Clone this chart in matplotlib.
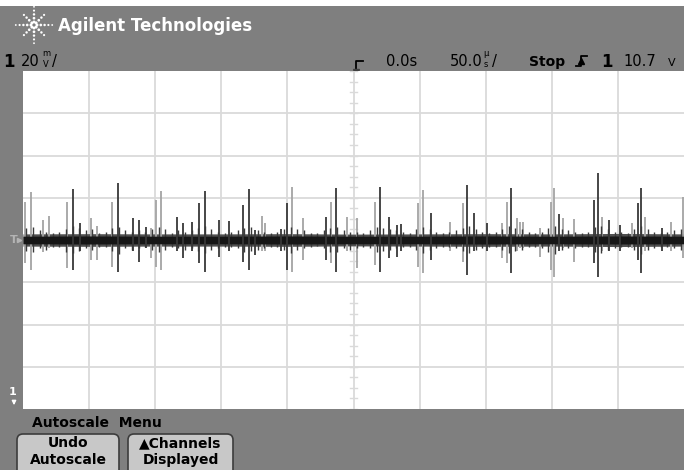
import matplotlib
matplotlib.use('Agg')
import matplotlib.pyplot as plt
from matplotlib.patches import FancyBboxPatch, Rectangle

# channel 1 capture: 50 us/div, 20 mV/div, trace
spike_t = [-248.7, -244.2, -234.9, -230.3, -216.7, -212.0, -206.9, -198.8, -194.3, -182.9,
           -178.4, -166.6, -162.0, -157.0, -153.4, -149.4, -145.6, -133.7, -129.0, -122.4,
           -116.6, -112.6, -101.5, -94.0, -83.4, -79.0, -74.5, -69.5, -67.0, -55.1,
           -50.1, -46.8, -38.0, -20.8, -17.0, -13.2, -5.2, 2.9, 16.3, 20.0,
           27.1, 32.7, 35.7, 49.0, 52.3, 58.6, 73.0, 82.6, 85.6, 91.4,
           100.7, 112.5, 115.9, 118.9, 123.4, 125.9, 128.4, 141.1, 149.2, 151.9,
           155.7, 158.7, 166.8, 182.1, 184.7, 187.7, 193.5, 201.6, 210.4, 215.4,
           217.2, 220.5, 233.1, 240.1, 249.0]
spike_top = [18.1, 22.9, 9.5, 11.4, 18.1, 24.1, 8.0, 10.6, 6.6, 18.0,
             27.1, 10.6, 9.5, 6.3, 5.7, 18.9, 23.3, 10.7, 8.2, 8.7,
             17.4, 23.3, 9.5, 9.1, 16.6, 24.0, 4.7, 11.4, 8.2, 5.2,
             17.7, 25.2, 10.3, 11.0, 18.1, 24.5, 11.0, 10.3, 18.1, 25.2,
             11.0, 7.1, 7.6, 17.7, 23.7, 12.6, 8.7, 17.4, 26.0, 12.9,
             8.2, 7.9, 18.1, 24.5, 10.3, 8.7, 8.7, 5.7, 18.1, 24.5,
             12.2, 10.3, 9.8, 18.9, 31.6, 10.7, 9.5, 7.1, 7.9, 17.4,
             24.5, 11.0, 5.7, 8.7, 20.5]
spike_bot = [-10.9, -14.2, -5.7, -4.0, -13.3, -14.2, -5.0, -9.5, -9.5, -12.6,
             -15.0, -5.0, -10.3, -4.0, -8.5, -12.6, -14.2, -5.0, -8.5, -5.0,
             -11.0, -15.0, -8.0, -5.0, -10.3, -14.2, -7.1, -5.0, -5.0, -5.0,
             -14.2, -15.0, -9.5, -9.5, -11.0, -15.0, -5.0, -13.3, -11.8, -15.0,
             -8.5, -7.9, -5.0, -12.6, -15.8, -9.5, -5.0, -10.3, -16.6, -5.0,
             -5.0, -8.7, -11.0, -15.8, -5.0, -4.0, -4.0, -7.9, -14.2, -17.4,
             -5.0, -4.0, -10.3, -11.0, -17.4, -5.0, -5.0, -5.0, -4.0, -9.5,
             -15.8, -5.0, -5.0, -5.0, -8.5]
spike_dark = [0, 0, 0, 0, 0, 1, 1, 0, 0, 0,
              1, 1, 1, 1, 0, 0, 0, 1, 1, 1,
              1, 1, 1, 1, 1, 1, 1, 0, 0, 1,
              1, 0, 0, 1, 0, 1, 0, 0, 0, 1,
              1, 1, 1, 0, 0, 1, 0, 0, 1, 1,
              1, 0, 0, 1, 0, 0, 0, 0, 0, 0,
              1, 0, 0, 1, 1, 0, 1, 1, 0, 1,
              1, 0, 1, 0, 0]

# small noise hairs on the floor (mV)
hair_t = [-247.5, -242.5, -237.5, -232.5, -227.5, -222.5, -217.5, -212.5, -207.5, -202.5,
          -197.5, -192.5, -187.5, -182.5, -177.5, -172.5, -167.5, -162.5, -157.5, -152.5,
          -147.5, -142.5, -137.5, -132.5, -127.5, -122.5, -117.5, -112.5, -107.5, -102.5,
          -97.5, -92.5, -87.5, -82.5, -77.5, -72.5, -67.5, -62.5, -57.5, -52.5,
          -47.5, -42.5, -37.5, -32.5, -27.5, -22.5, -17.5, -12.5, -7.5, -2.5,
          2.5, 7.5, 12.5, 17.5, 22.5, 27.5, 32.5, 37.5, 42.5, 47.5,
          52.5, 57.5, 62.5, 67.5, 72.5, 77.5, 82.5, 87.5, 92.5, 97.5,
          102.5, 107.5, 112.5, 117.5, 122.5, 127.5, 132.5, 137.5, 142.5, 147.5,
          152.5, 157.5, 162.5, 167.5, 172.5, 177.5, 182.5, 187.5, 192.5, 197.5,
          202.5, 207.5, 212.5, 217.5, 222.5, 227.5, 232.5, 237.5, 242.5, 247.5]
hair_top = [5.5, 6.0, 4.5, 4.0, 3.5, 4.0, 5.0, 6.5, 5.5, 4.5,
            5.0, 3.5, 4.0, 5.5, 6.0, 4.5, 4.0, 4.5, 4.0, 5.0,
            6.0, 5.0, 3.5, 4.5, 4.0, 4.5, 5.5, 6.5, 5.0, 4.0,
            3.5, 4.0, 4.5, 5.5, 6.0, 4.5, 4.0, 3.5, 4.0, 5.0,
            6.0, 5.0, 4.5, 3.5, 3.5, 4.5, 5.5, 6.0, 4.5, 4.0,
            4.0, 3.5, 4.5, 6.0, 5.5, 5.0, 4.5, 4.0, 3.5, 5.0,
            6.0, 5.0, 4.0, 3.5, 4.0, 4.5, 5.5, 6.5, 5.0, 4.0,
            3.5, 4.0, 5.0, 6.5, 5.5, 5.0, 4.0, 3.5, 4.0, 5.5,
            6.5, 5.0, 4.5, 4.0, 3.5, 4.0, 6.0, 6.5, 5.0, 4.0,
            4.0, 3.5, 5.0, 6.5, 5.0, 4.0, 3.5, 4.0, 4.5, 5.0]
hair_bot = [-5.0, -5.5, -4.0, -4.5, -3.5, -3.5, -5.5, -6.0, -5.0, -4.0,
            -4.5, -3.5, -3.5, -5.0, -6.5, -4.0, -4.5, -4.0, -3.5, -4.5,
            -5.5, -4.5, -3.5, -4.0, -4.5, -4.0, -5.0, -6.0, -4.5, -4.0,
            -3.5, -3.5, -4.0, -5.5, -5.0, -4.5, -4.0, -3.5, -3.5, -4.5,
            -6.0, -4.5, -4.0, -3.5, -3.0, -4.0, -5.5, -5.5, -4.0, -4.5,
            -4.0, -3.5, -4.0, -5.5, -5.0, -4.5, -4.0, -3.5, -3.5, -4.5,
            -6.0, -4.5, -4.0, -3.5, -3.5, -4.0, -5.0, -6.0, -4.5, -4.0,
            -3.5, -3.5, -4.5, -6.0, -5.0, -4.5, -3.5, -3.5, -4.0, -5.5,
            -6.5, -4.5, -4.0, -4.0, -3.5, -3.5, -5.5, -6.0, -4.5, -4.0,
            -3.5, -3.5, -4.5, -6.5, -4.5, -4.0, -3.5, -3.5, -4.0, -4.5]

# half widths of the noise floor, one value per division edge (mV)
band_t = [-250, -200, -150, -100, -50, 0, 50, 100, 150, 200, 250]
band_core = [1.8, 1.9, 1.8, 1.8, 1.9, 1.8, 1.8, 1.9, 1.8, 1.9, 1.8]
band_fuzz = [2.9, 3.0, 2.9, 2.9, 3.0, 2.8, 2.9, 3.0, 2.9, 3.1, 2.9]

fig = plt.figure(figsize=(6.84, 4.70), dpi=100)
fig.patch.set_facecolor('#7f7f7f')

# pixel canvas for the screen decorations
bg = fig.add_axes([0, 0, 1, 1])
bg.set_xlim(0, 684)
bg.set_ylim(470, 0)
bg.axis('off')
bg.add_patch(Rectangle((0, 0), 684, 6, color='white', lw=0))

# starburst logo
cx, cy = 34, 25
for dx, dy, n in [(1, 0, 5), (-1, 0, 5), (0, 1, 5), (0, -1, 5),
                  (0.7, 0.7, 4), (-0.7, 0.7, 4), (0.7, -0.7, 4), (-0.7, -0.7, 4)]:
    rs = [3 + 3.8 * i for i in range(n)]
    bg.scatter([cx + dx * r for r in rs], [cy + dy * r for r in rs],
               s=[4.5 - 0.7 * i for i in range(n)], color='white', lw=0)
bg.text(58, 31, 'Agilent Technologies', color='white', fontsize=12,
        fontweight='bold', va='baseline')

# status line
bg.text(3, 67, '1', fontsize=12, fontweight='bold', va='baseline')
bg.text(21, 66, '20', fontsize=10.5, va='baseline')
bg.text(42, 56, 'm', fontsize=6, va='baseline')
bg.text(43, 67, 'V', fontsize=6, va='baseline')
bg.text(52, 66, '/', fontsize=10.5, va='baseline')
bg.plot([356, 356, 363], [70, 61, 61], color='black', lw=1.3)
bg.plot([356], [72], marker='v', color='#404040', ms=5)
bg.text(386, 66, '0.0s', fontsize=10.5, va='baseline')
bg.text(450, 66, '50.0', fontsize=10.5, va='baseline')
bg.text(483, 56, 'µ', fontsize=6, va='baseline')
bg.text(484, 67, 's', fontsize=6, va='baseline')
bg.text(492, 66, '/', fontsize=10.5, va='baseline')
bg.text(529, 66, 'Stop', fontsize=10, fontweight='bold', va='baseline')
bg.plot([576, 581, 581, 587], [66, 66, 56, 56], color='black', lw=1.3)
bg.plot([581], [61], marker='^', color='black', ms=4)
bg.text(601, 67, '1', fontsize=12, fontweight='bold', va='baseline')
bg.text(623, 66, '10.7', fontsize=10.5, va='baseline')
bg.text(668, 66, 'V', fontsize=8, va='baseline')

# left margin markers
bg.text(10, 240, 'T', color='#b4b4b4', fontsize=8, fontweight='bold', va='center')
bg.plot([19], [240], marker='>', color='#b4b4b4', ms=3)
bg.text(13, 392, '1', color='white', fontsize=8, fontweight='bold', ha='center', va='center')
bg.annotate('', xy=(14, 408), xytext=(14, 398),
            arrowprops=dict(arrowstyle='-|>', color='white', lw=1, mutation_scale=6))

# softkey menu
bg.text(32, 427, 'Autoscale  Menu', fontsize=10, fontweight='bold', va='baseline')
for x0, x1, lines in [(17, 119, ['Undo', 'Autoscale']), (128, 233, ['\u25b2Channels', 'Displayed'])]:
    bg.add_patch(FancyBboxPatch((x0, 434), x1 - x0, 44,
                                boxstyle='round,pad=0,rounding_size=6',
                                fc='#c8c8c8', ec='#3c3c3c', lw=1.2))
    bg.text((x0 + x1) / 2, 443, lines[0], fontsize=10, fontweight='bold', ha='center', va='center')
    bg.text((x0 + x1) / 2, 460, lines[1], fontsize=10, fontweight='bold', ha='center', va='center')

# graticule + trace
ax = fig.add_axes([23 / 684, 1 - 409 / 470, 661 / 684, 338 / 470])
ax.set_facecolor('white')
ax.set_xlim(-250, 250)
ax.set_ylim(-80, 80)
for x in range(-200, 250, 50):
    ax.axvline(x, color='#dadada', lw=1.3, zorder=1)
for y in range(-60, 80, 20):
    ax.axhline(y, color='#dadada', lw=1.3, zorder=1)
for x in range(-250, 251, 10):
    ax.plot([x, x], [-1.4, 1.4], color='#dadada', lw=1, zorder=1)
for y in range(-80, 81, 5):
    ax.plot([-3, 3], [y, y], color='#dadada', lw=1, zorder=1)
for sp in ax.spines.values():
    sp.set_visible(False)
ax.set_xticks([])
ax.set_yticks([])

ax.fill_between(band_t, [-v for v in band_fuzz], band_fuzz, color='#505050', lw=0, zorder=2)
ax.fill_between(band_t, [-v for v in band_core], band_core, color='#161616', lw=0, zorder=3)
for t, top, bot in zip(hair_t, hair_top, hair_bot):
    ax.plot([t, t], [bot, top], color='#3a3a3a', lw=1.0, zorder=2.6, solid_capstyle='butt')
for t, top, bot, d in zip(spike_t, spike_top, spike_bot, spike_dark):
    ax.plot([t, t], [bot, top], color='#383838' if d else '#a4a4a4',
            lw=1.3, zorder=4 if d else 2.5, solid_capstyle='butt')

fig.savefig('out.png', dpi=100, facecolor=fig.get_facecolor())
